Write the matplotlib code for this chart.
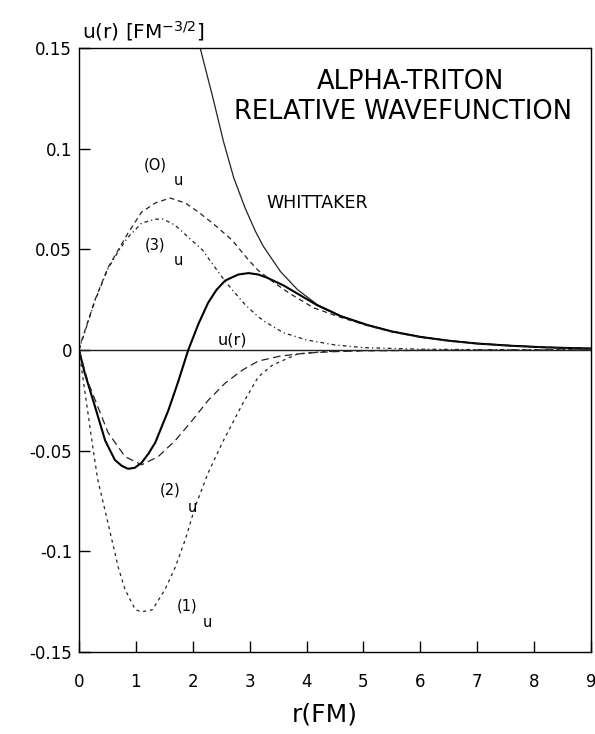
import matplotlib
matplotlib.use("Agg")
import matplotlib.pyplot as plt

# values (r in fm, u in fm^-3/2)
r_whit = [2.13, 2.36, 2.54, 2.72, 2.92, 3.1, 3.24, 3.54, 3.84, 4.19, 4.6, 5.07,
          5.5, 6.0, 6.5, 7.0, 7.6, 8.2, 9.0]
u_whit = [0.150, 0.1245, 0.1035, 0.0855, 0.0705, 0.059, 0.0515, 0.039, 0.030,
          0.0225, 0.017, 0.0125, 0.0093, 0.0066, 0.0047, 0.0033, 0.0022, 0.0014, 0.0008]

r_full = [0, 0.1, 0.28, 0.46, 0.63, 0.75, 0.86, 0.98, 1.1, 1.22, 1.34, 1.57, 1.74,
          1.92, 2.1, 2.27, 2.42, 2.57, 2.8, 2.98, 3.15, 3.3, 3.6, 3.9, 4.19, 4.6, 5.07,
          5.5, 6.0, 6.5, 7.0, 7.6, 8.2, 9.0]
u_full = [0, -0.0114, -0.028, -0.045, -0.0546, -0.0575, -0.059, -0.0585, -0.056,
          -0.0515, -0.046, -0.030, -0.016, 0.0, 0.013, 0.0235, 0.030, 0.0345, 0.0375,
          0.0382, 0.0375, 0.036, 0.032, 0.027, 0.0222, 0.0168, 0.0124, 0.0092,
          0.0065, 0.0046, 0.0032, 0.0021, 0.0013, 0.0007]

r_u0 = [0, 0.05, 0.28, 0.51, 0.69, 0.86, 1.1, 1.34, 1.6, 1.87, 2.1, 2.39, 2.69,
        2.98, 3.15, 3.45, 3.71, 4.12, 4.6, 5.07, 5.5, 6.0, 6.5, 7.0, 7.6, 8.2, 9.0]
u_u0 = [0, 0.005, 0.0248, 0.041, 0.0497, 0.058, 0.0685, 0.073, 0.0755, 0.073,
        0.0685, 0.062, 0.0546, 0.0447, 0.0395, 0.033, 0.028, 0.021, 0.0162, 0.0121,
        0.009, 0.0063, 0.0044, 0.0031, 0.002, 0.0012, 0.0007]

r_u3 = [0, 0.28, 0.51, 0.69, 0.86, 1.1, 1.34, 1.48, 1.69, 1.92, 2.17, 2.39, 2.52,
        2.69, 2.92, 3.13, 3.27, 3.6, 4.0, 4.5, 5.0, 6.0, 7.0, 8.0, 9.0]
u_u3 = [0, 0.0245, 0.0405, 0.049, 0.056, 0.063, 0.065, 0.065, 0.062, 0.056, 0.0497,
        0.041, 0.036, 0.030, 0.0225, 0.017, 0.014, 0.0085, 0.005, 0.0025, 0.0012,
        0.0004, 0.0002, 0.0001, 0.0]

r_u2 = [0, 0.16, 0.51, 0.81, 1.1, 1.39, 1.69, 1.99, 2.27, 2.57, 2.87, 3.15, 3.54,
        4.0, 4.5, 5.0, 6.0, 7.0, 8.0, 9.0]
u_u2 = [0, -0.016, -0.041, -0.053, -0.057, -0.053, -0.045, -0.035, -0.025, -0.0164,
        -0.010, -0.0055, -0.003, -0.0015, -0.0008, -0.0004, -0.0002, -0.0001, 0, 0]

r_u1 = [0, 0.1, 0.25, 0.33, 0.51, 0.69, 0.81, 0.99, 1.1, 1.29, 1.51, 1.69, 1.87,
        2.04, 2.27, 2.52, 2.87, 3.15, 3.4, 3.84, 4.3, 5.0, 6.0, 7.0, 8.0, 9.0]
u_u1 = [0, -0.02, -0.0497, -0.0645, -0.086, -0.108, -0.119, -0.129, -0.130, -0.129,
        -0.119, -0.108, -0.094, -0.078, -0.061, -0.046, -0.027, -0.0134, -0.0075,
        -0.002, -0.0008, -0.0003, -0.0001, 0, 0, 0]

x_ticks = [0, 1, 2, 3, 4, 5, 6, 7, 8, 9]
y_ticks = [-0.15, -0.1, -0.05, 0, 0.05, 0.1, 0.15]
y_ticklabels = ["-0.15", "-0.1", "-0.05", "0", "0.05", "0.1", "0.15"]

plt.rcParams["font.family"] = ["DejaVu Sans"]
plt.rcParams["mathtext.default"] = "regular"

fig = plt.figure(figsize=(5.95, 7.34), dpi=100)
ax = fig.add_axes([0.1328, 0.1117, 0.8605, 0.8229])

ink = "#222222"
ax.axhline(0, color=ink, lw=1.0)
ax.plot(r_whit, u_whit, color=ink, lw=0.9)
ax.plot(r_full, u_full, color="black", lw=1.5)
ax.plot(r_u0, u_u0, color=ink, lw=0.9, ls=(0, (4, 3)))
ax.plot(r_u3, u_u3, color=ink, lw=0.9, ls=(0, (3, 2.5, 1, 2.5)))
ax.plot(r_u2, u_u2, color=ink, lw=0.9, ls=(0, (6, 3.5)))
ax.plot(r_u1, u_u1, color=ink, lw=0.9, ls=(0, (2.5, 3)))

ax.set_xlim(0, 9)
ax.set_ylim(-0.15, 0.15)
ax.set_xticks(x_ticks)
ax.set_yticks(y_ticks)
ax.set_yticklabels(y_ticklabels)
ax.tick_params(direction="in", length=8, width=1, labelsize=12, colors="black")
ax.tick_params(axis="x", pad=15)
ax.tick_params(axis="y", pad=5)
for s in ax.spines.values():
    s.set_linewidth(1)

# curve labels
lab = dict(fontsize=10.5, ha="center", va="center")
ax.text(1.34, 0.092, "(O)", **lab)
ax.text(1.74, 0.0844, "u", **lab)
ax.text(1.34, 0.052, "(3)", **lab)
ax.text(1.74, 0.0447, "u", **lab)
ax.text(2.69, 0.0050, "u(r)", fontsize=11.5, ha="center", va="center")
ax.text(1.60, -0.0695, "(2)", **lab)
ax.text(1.99, -0.078, "u", **lab)
ax.text(1.90, -0.127, "(1)", **lab)
ax.text(2.25, -0.1355, "u", **lab)
ax.text(4.19, 0.073, "WHITTAKER", fontsize=12.5, ha="center", va="center")
ax.text(5.83, 0.133, "ALPHA-TRITON", fontsize=18.5, ha="center", va="center")
ax.text(5.69, 0.118, "RELATIVE WAVEFUNCTION", fontsize=18.5, ha="center", va="center")

fig.text(0.138, 0.942, "u(r) [FM$^{-3/2}$]", fontsize=14.5, ha="left", va="bottom")
fig.text(0.546, 0.026, "r(FM)", fontsize=18, ha="center", va="center")

fig.savefig("out.png", dpi=100, facecolor="white")
